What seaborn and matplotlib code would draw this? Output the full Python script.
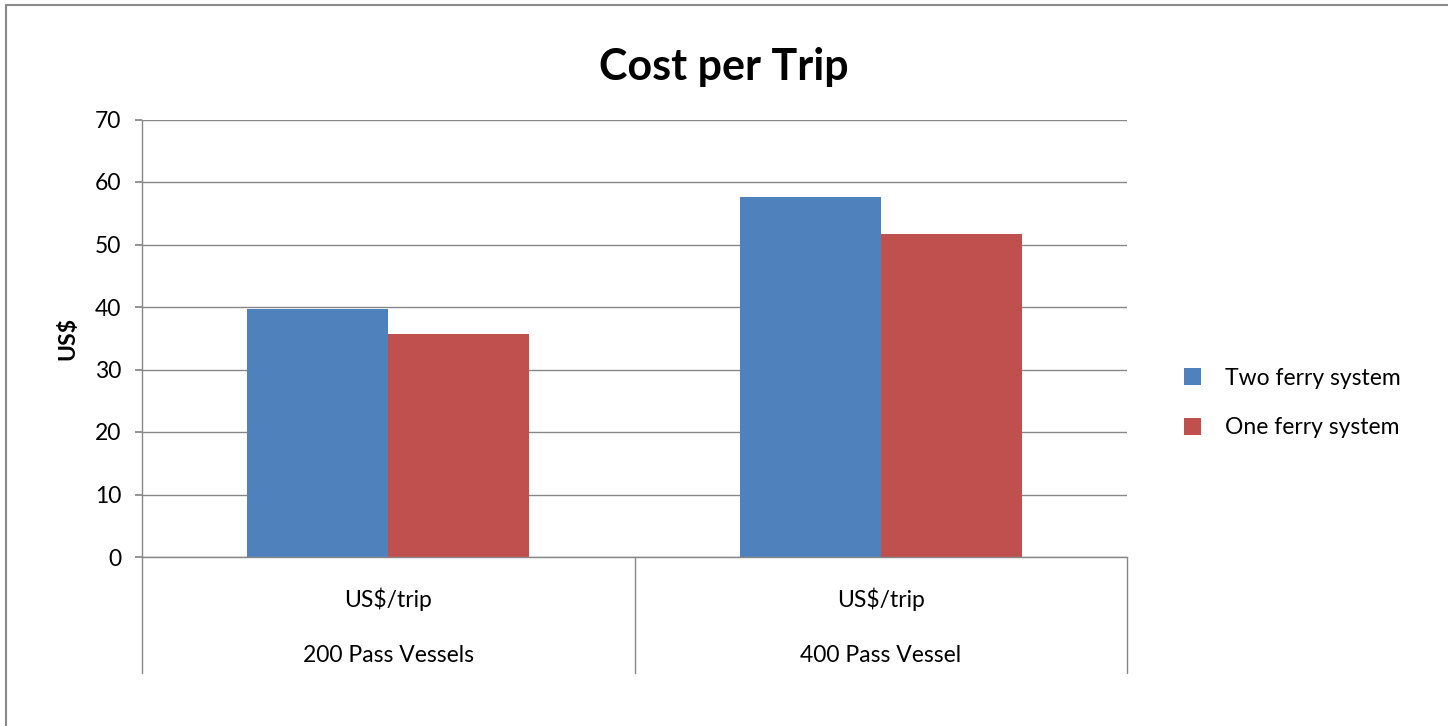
import pandas as pd
import seaborn as sns
import matplotlib.pyplot as plt
from matplotlib.patches import Rectangle
from matplotlib.lines import Line2D

# --- Data ---
vessels = ["200 Pass Vessels", "400 Pass Vessel"]
systems = ["Two ferry system", "One ferry system"]
two_ferry = [39.7, 57.6]
one_ferry = [35.7, 51.7]
unit_label = "US$/trip"

df = pd.DataFrame({
    "vessel": vessels * 2,
    "system": [systems[0]] * 2 + [systems[1]] * 2,
    "cost": two_ferry + one_ferry,
})

sns.set_theme(style="white")
plt.rcParams["font.family"] = ["Lato", "DejaVu Sans"]
plt.rcParams["text.color"] = "black"
plt.rcParams["ytick.color"] = "black"

fs = 16.5
grid_col = "#878787"
palette = {systems[0]: "#4F81BD", systems[1]: "#C0504D"}

fig = plt.figure(figsize=(14.48, 7.26), dpi=100)
ax = fig.add_axes([142 / 1448, 169 / 726, 985 / 1448, 437.5 / 726])

sns.barplot(data=df, x="vessel", y="cost", hue="system", order=vessels,
            hue_order=systems, palette=palette, width=0.572, gap=0,
            saturation=1, linewidth=0, ax=ax)

ax.set_ylim(0, 70)
ax.set_yticks(range(0, 71, 10))
ax.set_xlim(-0.5, 1.5)
ax.yaxis.grid(True, color=grid_col, linewidth=1)
ax.set_axisbelow(True)
for side in ["top", "right"]:
    ax.spines[side].set_visible(False)
for side in ["left", "bottom"]:
    ax.spines[side].set_color(grid_col)
    ax.spines[side].set_linewidth(1)
ax.tick_params(axis="y", left=True, length=5, color=grid_col, labelcolor="black",
               labelsize=fs, pad=10)
ax.tick_params(axis="x", bottom=False, labelbottom=False)
ax.set_xlabel("")
ax.set_ylabel("US$", fontsize=fs, fontweight="bold", color="black", labelpad=12)

# two-level category axis
trans = ax.get_xaxis_transform()
for x in [-0.5, 0.5, 1.5]:
    ax.add_line(Line2D([x, x], [0, -116 / 437.5], transform=trans,
                       color=grid_col, linewidth=1, clip_on=False))
for i, name in enumerate(vessels):
    ax.text(i, -42 / 437.5, unit_label, transform=trans, ha="center",
            va="center", fontsize=fs, color="black")
    ax.text(i, -98 / 437.5, name, transform=trans, ha="center",
            va="center", fontsize=fs, color="black")

fig.text(724 / 1448, 1 - 67 / 726, "Cost per Trip", ha="center", va="center",
         fontsize=31, fontweight="bold", color="black")

handles, labels = ax.get_legend_handles_labels()
ax.legend(handles, labels, loc="center left", bbox_to_anchor=(1163 / 1448, 1 - 403 / 726),
          bbox_transform=fig.transFigure, frameon=False, fontsize=fs,
          handlelength=0.75, handleheight=0.75, handletextpad=1.05, labelspacing=1.25)

# outer chart border (only top/left edges visible)
fig.patches.append(Rectangle((6 / 1448, -0.1), 2, 1 - 5 / 726 + 0.1,
                             transform=fig.transFigure, fill=False,
                             edgecolor="#8a8a8a", linewidth=1.5))

fig.savefig("out.png", dpi=100)
